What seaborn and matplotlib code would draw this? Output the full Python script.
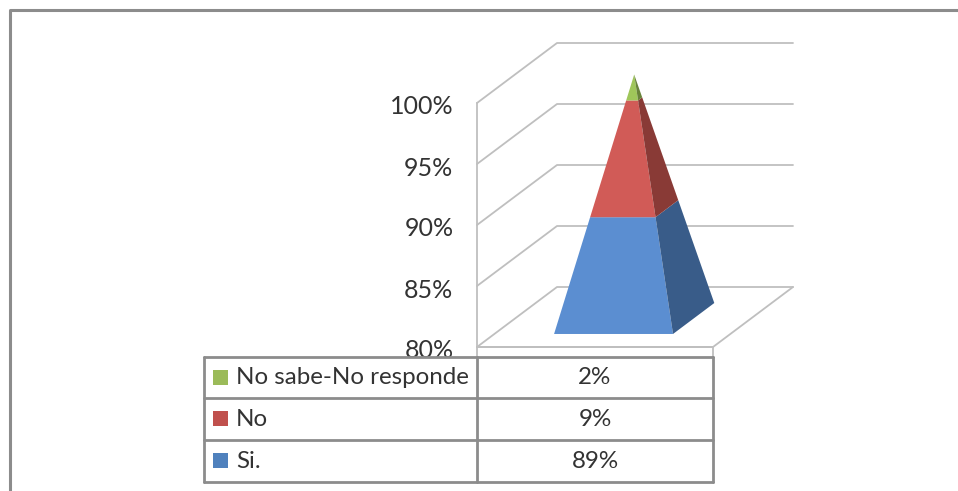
"""Stacked 3D-style pyramid with a data table underneath."""

import pandas as pd
import seaborn as sns
import matplotlib.pyplot as plt
from matplotlib.patches import Rectangle
from matplotlib.transforms import ScaledTranslation

categories = ["Si.", "No", "No sabe-No responde"]
values = [89, 9, 2]
value_labels = ["89%", "9%", "2%"]
y_ticks = [80, 85, 90, 95, 100]

FRONT = ["#5B8ED1", "#D15B57", "#9FC65A"]
SIDE = ["#395C89", "#893A36", "#68833A"]
SWATCH = ["#4F81BD", "#C0504D", "#9BBB59"]
GRID = "#BFBFBF"
FRAME = "#8C8C8C"
TEXT = "#333333"

W, H = 958, 491
# plot box in pixels
X0, X1 = 477, 713
Y_BOTTOM, Y_TOP = 347, 103
# oblique projection: how far a point at full depth moves
DEPTH_X = 80 / (X1 - X0)
DEPTH_Y = 60 / ((Y_BOTTOM - Y_TOP) / 20)


def project(x, depth, v):
    return x + DEPTH_X * depth, v + DEPTH_Y * depth


sns.set_theme(style="white")
plt.rcParams["font.family"] = ["Lato", "DejaVu Sans"]

fig = plt.figure(figsize=(W / 100, H / 100), dpi=100, facecolor="white")
ax = fig.add_axes([X0 / W, 1 - Y_BOTTOM / H, (X1 - X0) / W, (Y_BOTTOM - Y_TOP) / H])
ax.patch.set_alpha(0)

# walls and floor gridlines
rows = []
for t in y_ticks:
    for i, (x, d) in enumerate([(0, 0), (0, 1), (1, 1)]):
        px, py = project(x, d, t)
        rows.append({"tick": t, "i": i, "x": px, "y": py})
grid = pd.DataFrame(rows)
sns.lineplot(data=grid, x="x", y="y", units="tick", estimator=None, sort=False,
             color=GRID, lw=1.3, ax=ax, clip_on=False, legend=False)
fx, fy = project(1, 0, 80)
bx, by = project(1, 1, 80)
ax.plot([0, fx, bx], [80, fy, by], color=GRID, lw=1.3, clip_on=False)

# pyramid, apex in the middle of the floor at the top of the axis
xl, xr, dn, df = 0.253, 0.757, 0.217, 0.733
xc, dc = (xl + xr) / 2, (dn + df) / 2


def edge(x, d, v):
    t = (v - 80) / 20
    return project(x + (xc - x) * t, d + (dc - d) * t, v)


level = 80
cum = 0
for val, front, side in zip(values, FRONT, SIDE):
    cum += val
    top = cum
    ax.fill(*zip(edge(xl, dn, level), edge(xr, dn, level), edge(xr, dn, top), edge(xl, dn, top)),
            color=front, lw=0, clip_on=False, zorder=3)
    ax.fill(*zip(edge(xr, dn, level), edge(xr, df, level), edge(xr, df, top), edge(xr, dn, top)),
            color=side, lw=0, clip_on=False, zorder=3)
    level = top

ax.set_xlim(0, 1)
ax.set_ylim(80, 100)
ax.set_xticks([])
ax.set_yticks(y_ticks)
ax.set_yticklabels([f"{t}%" for t in y_ticks], fontsize=18, color=TEXT)
ax.tick_params(axis="y", length=0, pad=17)
# labels sit slightly below their gridlines in the reference
shift = ScaledTranslation(0, -2 / 100, fig.dpi_scale_trans)
for lab in ax.get_yticklabels():
    lab.set_transform(lab.get_transform() + shift)
ax.set_xlabel("")
ax.set_ylabel("")
sns.despine(ax=ax, top=True, right=True, bottom=True)
ax.spines["left"].set_color(GRID)
ax.spines["left"].set_linewidth(1.3)

# overlay in pixels: outer frame, floor edge and table
over = fig.add_axes([0, 0, 1, 1])
over.set_xlim(0, W)
over.set_ylim(H, 0)
over.axis("off")
over.patch.set_alpha(0)
over.plot([10, 10, W], [H, 10, 10], color=FRAME, lw=2.2)
over.plot([X0, X0, X1, X1], [357, Y_BOTTOM, Y_BOTTOM, 357], color=GRID, lw=1.3)

col_x = [204, 477, 713]
row_y = [357, 398, 440, 482]
over.add_patch(Rectangle((col_x[0], row_y[0]), col_x[2] - col_x[0], row_y[3] - row_y[0],
                         fc="white", ec="none", zorder=4))
for y in row_y:
    over.plot([col_x[0], col_x[2]], [y, y], color=FRAME, lw=2, zorder=5)
for x in col_x:
    over.plot([x, x], [row_y[0], row_y[3]], color=FRAME, lw=2, zorder=5)
for i, (cat, lab, sw) in enumerate(zip(categories[::-1], value_labels[::-1], SWATCH[::-1])):
    cy = (row_y[i] + row_y[i + 1]) / 2
    over.add_patch(Rectangle((213, cy - 8), 15, 15, fc=sw, ec="none", zorder=6))
    over.text(236, cy, cat, va="center", ha="left", fontsize=17.4, color=TEXT, zorder=6)
    over.text((col_x[1] + col_x[2]) / 2, cy, lab, va="center", ha="center",
              fontsize=17.4, color=TEXT, zorder=6)

fig.savefig("out.png", dpi=100, facecolor="white")
